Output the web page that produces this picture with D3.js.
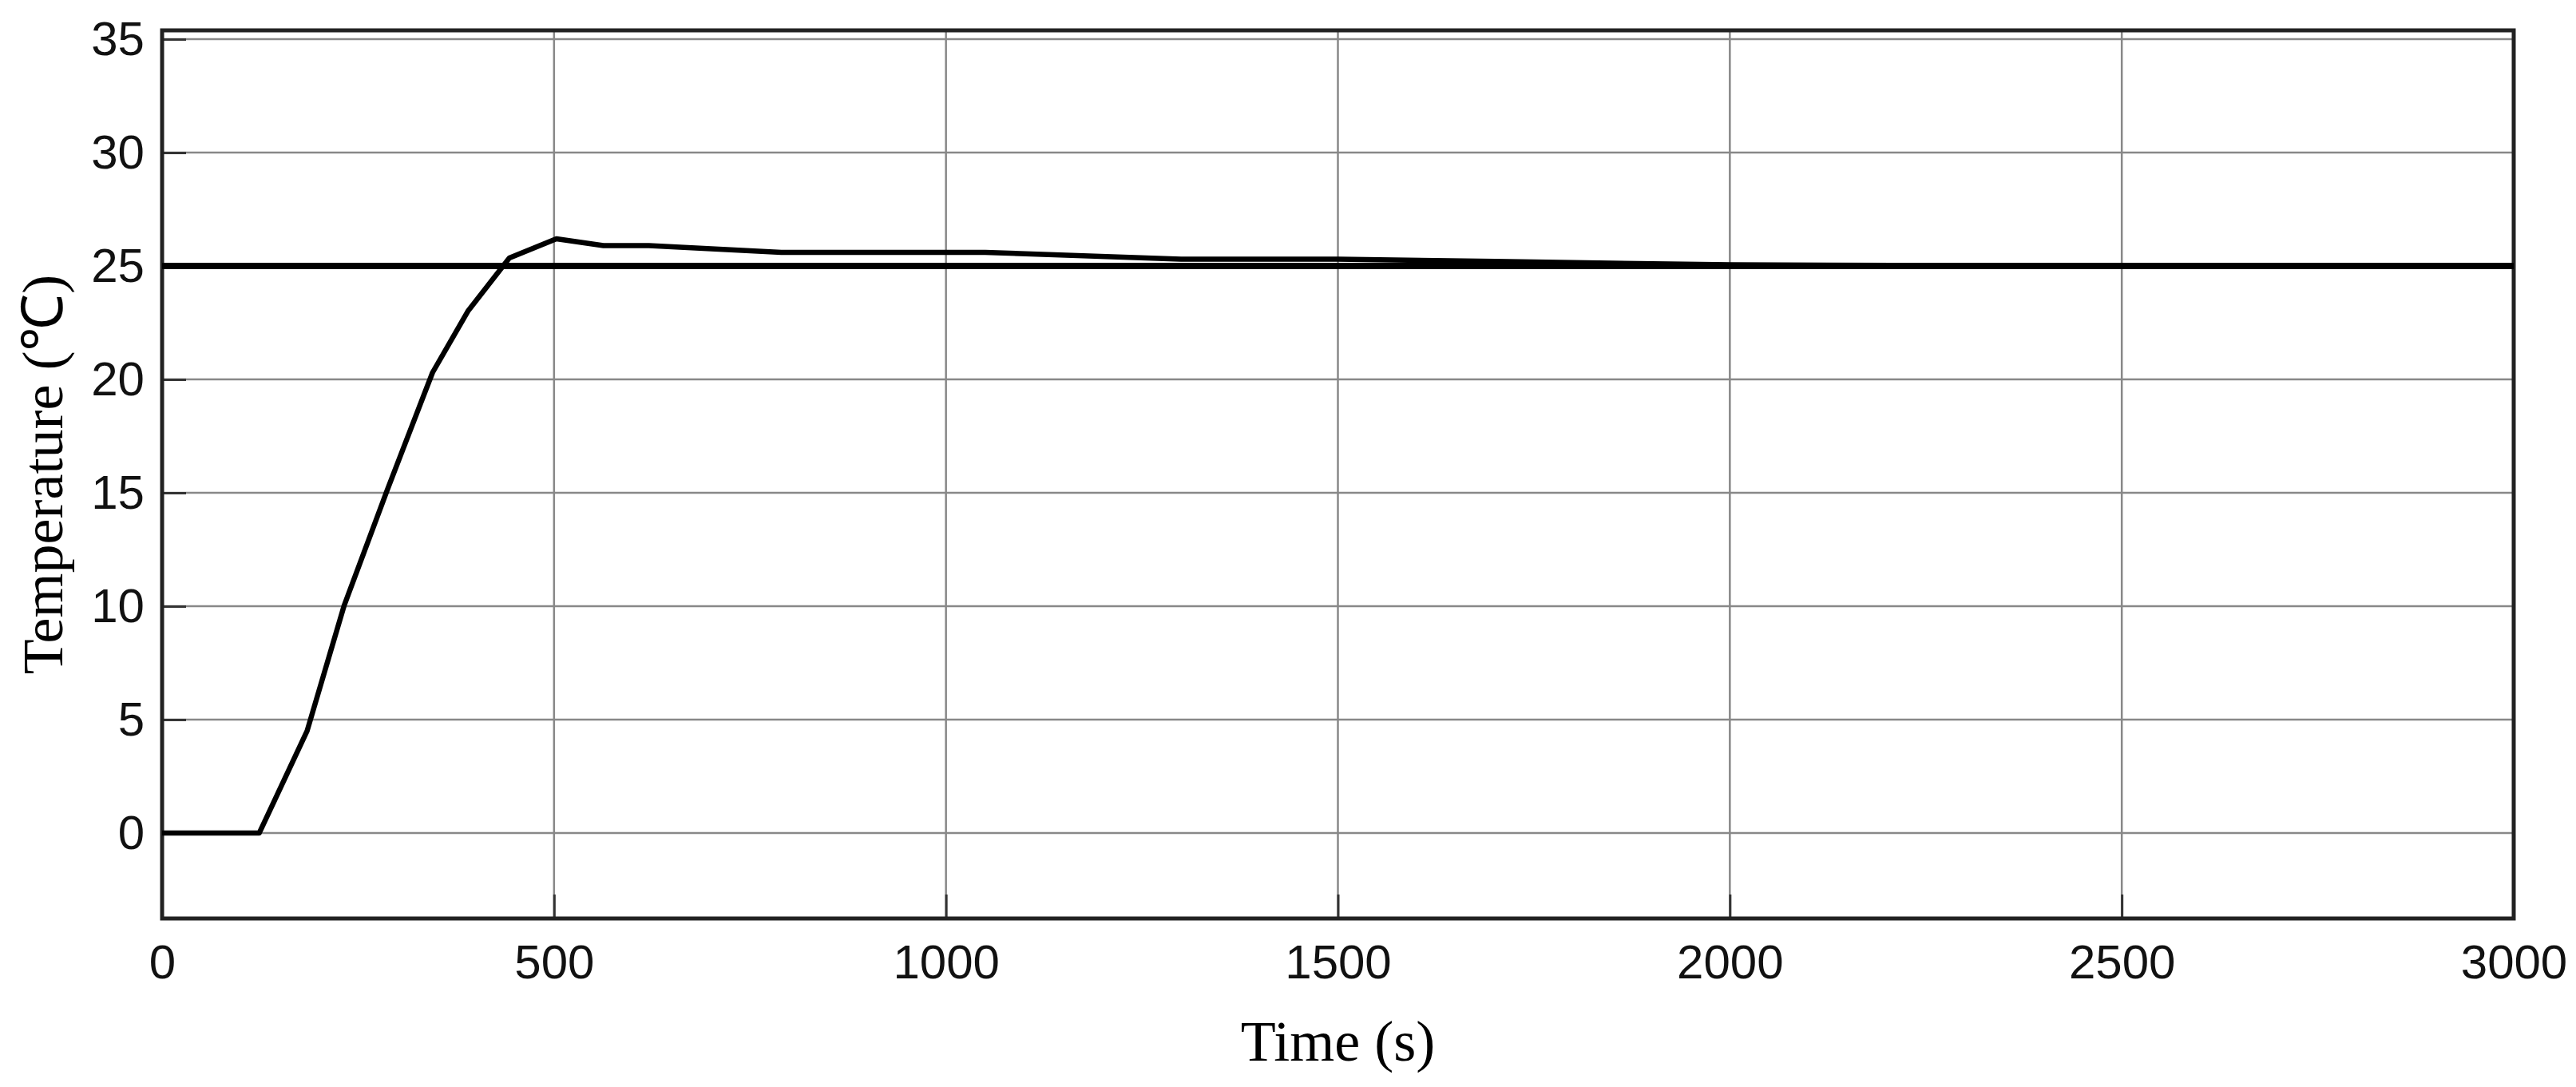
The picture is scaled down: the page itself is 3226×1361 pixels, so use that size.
<!DOCTYPE html>
<html><head><meta charset="utf-8">
<script src="https://cdn.jsdelivr.net/npm/d3@7"></script>
<style>body{margin:0;background:#fff}</style></head>
<body><svg id="c" width="3226" height="1361"></svg>
<script>
const timeS = [0,124,185,232,287,307,345,390,443,503,563,621,790,900,1050,1300,1500,1700,2000,2500,3000];
const tempC = [0,0,4.5,10,15.1,16.9,20.3,23,25.35,26.2,25.9,25.9,25.6,25.6,25.6,25.3,25.3,25.2,25.05,25.0,25.0];
const setpoint = 25;
const xTicks = [0,500,1000,1500,2000,2500,3000];
const yTicks = [0,5,10,15,20,25,30,35];

const L=203,R=3148,T=38,B=1150;
const svg=d3.select("#c");
const x=d3.scaleLinear().domain([0,3000]).range([L,R]);
const y=d3.scaleLinear().domain([-3.77,35.39]).range([B,T]);

const g=svg.append("g");
g.selectAll(".gx").data(xTicks.slice(1,-1)).join("line")
 .attr("x1",d=>x(d)).attr("x2",d=>x(d)).attr("y1",T).attr("y2",B)
 .attr("stroke","#888").attr("stroke-width",2.5);
g.selectAll(".gy").data(yTicks).join("line")
 .attr("x1",L).attr("x2",R).attr("y1",d=>y(d)).attr("y2",d=>y(d))
 .attr("stroke","#888").attr("stroke-width",2.5);

const xa=svg.append("g").attr("transform",`translate(0,${B})`)
 .call(d3.axisBottom(x).tickValues(xTicks).tickFormat(d3.format("d")).tickSizeInner(-30).tickSizeOuter(0).tickPadding(32));
const ya=svg.append("g").attr("transform",`translate(${L},0)`)
 .call(d3.axisLeft(y).tickValues(yTicks).tickFormat(d3.format("d")).tickSizeInner(-30).tickSizeOuter(0).tickPadding(22));
[xa,ya].forEach(a=>{a.select(".domain").remove();
 a.selectAll("line").attr("stroke","#333").attr("stroke-width",3);
 a.selectAll("text").attr("font-family","Liberation Sans, Arial").attr("font-size",60).attr("fill","#111");});

svg.append("rect").attr("x",L).attr("y",T).attr("width",R-L).attr("height",B-T)
 .attr("fill","none").attr("stroke","#222").attr("stroke-width",5);

svg.append("line").attr("x1",x(0)).attr("x2",x(3000)).attr("y1",y(setpoint)).attr("y2",y(setpoint))
 .attr("stroke","#000").attr("stroke-width",8);
svg.append("path").datum(timeS.map((t,i)=>[t,tempC[i]]))
 .attr("d",d3.line().x(d=>x(d[0])).y(d=>y(d[1])))
 .attr("fill","none").attr("stroke","#000").attr("stroke-width",6.5).attr("stroke-linejoin","round");

svg.append("text").attr("x",(L+R)/2).attr("y",1328).attr("text-anchor","middle")
 .attr("font-family","Liberation Serif, Times New Roman").attr("font-size",72).text("Time (s)");
svg.append("text").attr("transform",`translate(78,${(T+B)/2}) rotate(-90)`).attr("text-anchor","middle")
 .attr("font-family","Liberation Serif, Times New Roman").attr("font-size",72).text("Temperature (℃)");
</script></body></html>
